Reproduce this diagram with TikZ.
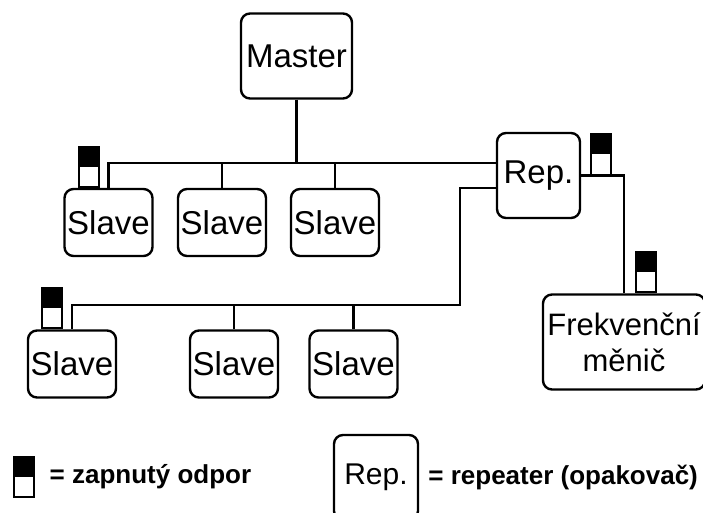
\documentclass[tikz,border=0pt]{standalone}
\usepackage{fontspec}
\setmainfont{Liberation Sans}
\usetikzlibrary{positioning}
\tikzset{x=1pt, y=-1pt,
every path/.style={line width=2.4pt},
unit/.style={
draw,
rounded corners=9pt,
inner sep=0pt,
align=center,
font=\fontsize{33}{37}\selectfont},
slave/.style={unit, minimum width=88pt, minimum height=67pt},
term/.style={
draw,
fill=white,
line width=2pt,
inner sep=0pt,
minimum width=20pt,
minimum height=40pt,
anchor=south,
path picture={\fill[black] (path picture bounding box.north west) rectangle (path picture bounding box.east);}},
legend/.style={anchor=west, inner sep=0pt, font=\fontsize{26}{30}\selectfont\bfseries}}

\begin{document}
\begin{tikzpicture}
\useasboundingbox (0,0) rectangle (703,513);
\node[unit, minimum width=111pt, minimum height=85pt] (master) at (296.5,56) {Master};
\node[unit, minimum width=83pt, minimum height=85pt] (rep) at (538.5,175.5) {Rep.};
\node[slave] (s1) at (108.5,222.5) {Slave};
\node[slave] (s2) at (222,222.5) {Slave};
\node[slave] (s3) at (335,222.5) {Slave};
\node[slave] (s4) at (72,364) {Slave};
\node[slave] (s5) at (234,364) {Slave};
\node[slave] (s6) at (353.5,364) {Slave};
\node[unit, minimum width=162pt, minimum height=95pt, font=\fontsize{31}{36}\selectfont] (fm) at (624,342) {Frekvenční\\měnič};
\coordinate (bus1) at (0,163);
\coordinate (bus2) at (460,305);
\draw (master) -- (master |- bus1);
\draw (rep.west |- bus1) -| (s1.north);
\draw (s2) -- (s2 |- bus1);
\draw (s3) -- (s3 |- bus1);
\draw ([yshift=-12.5pt]rep.west) -| (bus2) -| (s4.north);
\draw (s5) -- (s5 |- bus2);
\draw (s6) -- (s6 |- bus2);
\draw (rep.east) -| (fm.north);
\node[term] (t1) at ([xshift=-19.5pt]s1.north) {};
\node[term] (t2) at ([xshift=-20pt]s4.north) {};
\node[term] (t3) at ([xshift=19.5pt]rep.east) {};
\node[term] (t4) at ([xshift=22pt]fm.north) {};
\node[term] (legterm) at (23.5,498) {};
\node[legend, right=14pt of legterm] (legtext) {= zapnutý odpor};
\node[unit, minimum width=84pt, minimum height=85pt, font=\fontsize{30}{34}\selectfont] (legrep) at (376,477.5) {Rep.};
\node[legend, right=8pt of legrep] (legreptext) {= repeater (opakovač)};
\end{tikzpicture}
\end{document}
